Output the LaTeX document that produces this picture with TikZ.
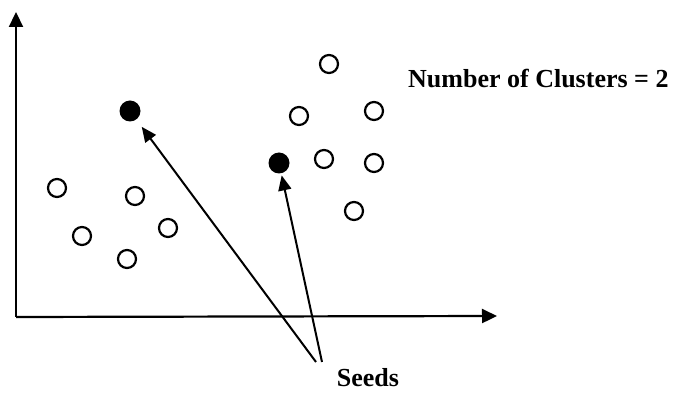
\documentclass[tikz,border=0pt]{standalone}
\usepackage{fontspec}
\setmainfont{Liberation Serif}
\usetikzlibrary{arrows.meta}

\begin{document}
\begin{tikzpicture}[x=1pt, y=-1pt,
  pt/.style={circle, draw=black, line width=2.2pt, minimum size=18pt,
             inner sep=0pt, fill=#1},
  pt/.default=white,
  seed/.style={circle, fill=black, minimum size=21pt, inner sep=0pt},
  axis/.style={-{Triangle[length=15pt, width=14pt]}, line width=2.2pt},
  arr/.style={-{Triangle[length=15pt, width=13pt]}, line width=2pt},
  lbl/.style={font=\bfseries\fontsize{26}{28}\selectfont, inner sep=0pt}]
\useasboundingbox (0,0) rectangle (678,395);

% axes
\coordinate (origin) at (16,317);
\coordinate (ytop) at (16,12);
\coordinate (xend) at (497,316);
\draw[axis] (origin) -- (ytop);
\draw[axis] (origin) -- (xend);

% left cluster
\node[pt] (a1) at (57,188) {};
\node[pt] (a2) at (82,236) {};
\node[pt] (a3) at (135,196) {};
\node[pt] (a4) at (168,228) {};
\node[pt] (a5) at (127,259) {};
\node[seed] (s1) at (130,111) {};

% right cluster
\node[pt] (b1) at (329,64) {};
\node[pt] (b2) at (299,116) {};
\node[pt] (b3) at (374,111) {};
\node[pt] (b4) at (324,159) {};
\node[pt] (b5) at (374,163) {};
\node[pt] (b6) at (354,211) {};
\node[seed] (s2) at (279,163) {};

% labels
\node[lbl, anchor=base west] (title) at (408,88) {Number of Clusters = 2};
\node[lbl] (seeds) at (368,378) {Seeds};

\coordinate (t1) at (316,362);
\coordinate (t2) at (322,362);
\draw[arr, shorten >=9pt] (t1) -- (s1);
\draw[arr, shorten >=2pt] (t2) -- (s2);
\end{tikzpicture}
\end{document}
